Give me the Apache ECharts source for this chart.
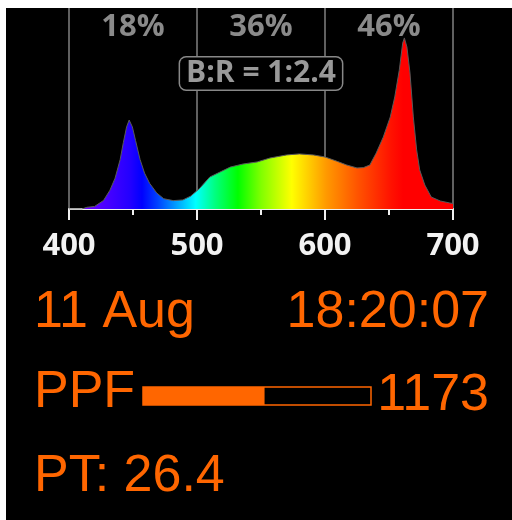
<!DOCTYPE html>
<html><head><meta charset="utf-8">
<script src="https://cdn.jsdelivr.net/npm/echarts@6/dist/echarts.min.js"></script>
<style>html,body{margin:0;padding:0;background:#fff;}#c{position:absolute;left:6px;top:8px;width:506px;height:512px;background:#000;}</style>
</head><body><div id="c"></div><script>
// Spectrum (relative intensity, red peak = 100)
const wavelengths = [400,410,414,420,427,432,436,440,442.5,445,447,449.5,452,455.5,459,463,468.5,474,481.5,489,495,502,510,518,526,536,547,557,570,580,591,600,609,617,625,630,635,640,645.5,651,654.5,658,660.7,662,664,666.4,669,671.6,674,678,683,690,697.5,700];
const intensity   = [0,0,1,1.5,5,11,18,29,39,48,52,48,40,29,21,15,9.4,6,4.9,5.3,7.5,12,18.7,21.6,24.5,26.3,27.5,29.8,31.6,32.2,31.6,30.4,28,25.7,24,24.2,25.7,32.7,42,53.8,65.5,81,97,100,94.7,79.5,53.8,34.5,22.8,14,7,4.7,3.5,3.2];
const xTickLabels = [400,500,600,700];
const bandRanges = [[400,500],[500,600],[600,700]];
const bandShares = ['18%','36%','46%'];
const ratioLabel = 'B:R = 1:2.4';
const dateText = '11 Aug';
const timeText = '18:20:07';
const ppfLabel = 'PPF';
const ppfValue = 1173;
const ppfMax = 2200;
const ptLabel = 'PT: 26.4';

const ORANGE = '#ff6600';
const chart = echarts.init(document.getElementById('c'), null, {renderer:'canvas'});

const grad = new echarts.graphic.LinearGradient(0,0,1,0,[
  {offset:0.00,color:'#7f00ff'},
  {offset:0.07,color:'#5a00ff'},
  {offset:0.16,color:'#2200ff'},
  {offset:0.19,color:'#0000ff'},
  {offset:0.23,color:'#0040ff'},
  {offset:0.28,color:'#00a0ff'},
  {offset:0.33,color:'#00ffff'},
  {offset:0.38,color:'#00ff80'},
  {offset:0.44,color:'#00ff00'},
  {offset:0.50,color:'#80ff00'},
  {offset:0.58,color:'#ffff00'},
  {offset:0.67,color:'#ff9900'},
  {offset:0.75,color:'#ff5500'},
  {offset:0.84,color:'#ff1100'},
  {offset:0.87,color:'#ff0000'},
  {offset:1.00,color:'#ff0000'}
]);

const bigFont = '"Liberation Sans", Arial, sans-serif';

chart.setOption({
  backgroundColor:'#000',
  animation:false,
  grid:[
    {left:63, top:0, width:384, height:201, show:false},
    {left:137, top:379, width:228, height:18, show:true, borderColor:ORANGE, borderWidth:1.5, backgroundColor:'transparent'}
  ],
  xAxis:[
    {type:'value', gridIndex:0, min:xTickLabels[0], max:xTickLabels[xTickLabels.length-1], interval:100,
     axisLine:{show:true, lineStyle:{color:'#f0f0f0', width:2}},
     axisTick:{show:true, length:11, lineStyle:{color:'#f0f0f0', width:2}},
     minorTick:{show:true, splitNumber:2, length:6, lineStyle:{color:'#f0f0f0', width:2}},
     splitLine:{show:true, lineStyle:{color:'#808080', width:1.5}},
     axisLabel:{color:'#f2f2f2', fontFamily:'"Open Sans"', fontWeight:'bold', fontSize:31, margin:22}
    },
    {type:'value', gridIndex:1, min:0, max:ppfMax, show:false}
  ],
  yAxis:[
    {type:'value', gridIndex:0, min:0, max:117.5, show:false},
    {type:'category', gridIndex:1, data:[ppfLabel], show:false}
  ],
  series:[
    {type:'line', xAxisIndex:0, yAxisIndex:0, data:wavelengths.map((w,i)=>[w,intensity[i]]),
     showSymbol:false, smooth:false, lineStyle:{color:'#5a5a5a', width:1},
     areaStyle:{color:grad, opacity:1},
     markArea:{silent:true, itemStyle:{color:'rgba(0,0,0,0)'},
       label:{show:true, position:'insideTop', distance:4, color:'#8a8a8a', fontFamily:'"Open Sans"', fontWeight:'bold', fontSize:31},
       data:bandRanges.map((r,i)=>[{xAxis:r[0], name:bandShares[i]},{xAxis:r[1]}])
     }
    },
    {type:'bar', xAxisIndex:1, yAxisIndex:1, data:[ppfValue], barWidth:'100%', itemStyle:{color:ORANGE}}
  ],
  graphic:[
    {type:'text', x:255, y:65.5, z:10, style:{text:ratioLabel, fill:'#999', font:'bold 30px "Open Sans"', align:'center', verticalAlign:'middle',
      backgroundColor:'#000', borderColor:'#888', borderWidth:1.5, borderRadius:6, padding:[1,6,1,6]}},
    {type:'text', x:28, y:305, style:{text:dateText, fill:ORANGE, font:'52px '+bigFont, align:'left', verticalAlign:'middle'}},
    {type:'text', x:483, y:305, style:{text:timeText, fill:ORANGE, font:'52px '+bigFont, align:'right', verticalAlign:'middle'}},
    {type:'text', x:28, y:385, style:{text:ppfLabel, fill:ORANGE, font:'52px '+bigFont, align:'left', verticalAlign:'middle'}},
    {type:'text', x:483, y:388, style:{text:String(ppfValue), fill:ORANGE, font:'52px '+bigFont, align:'right', verticalAlign:'middle'}},
    {type:'text', x:28, y:469, style:{text:ptLabel, fill:ORANGE, font:'52px '+bigFont, align:'left', verticalAlign:'middle'}}
  ]
});
</script></body></html>
